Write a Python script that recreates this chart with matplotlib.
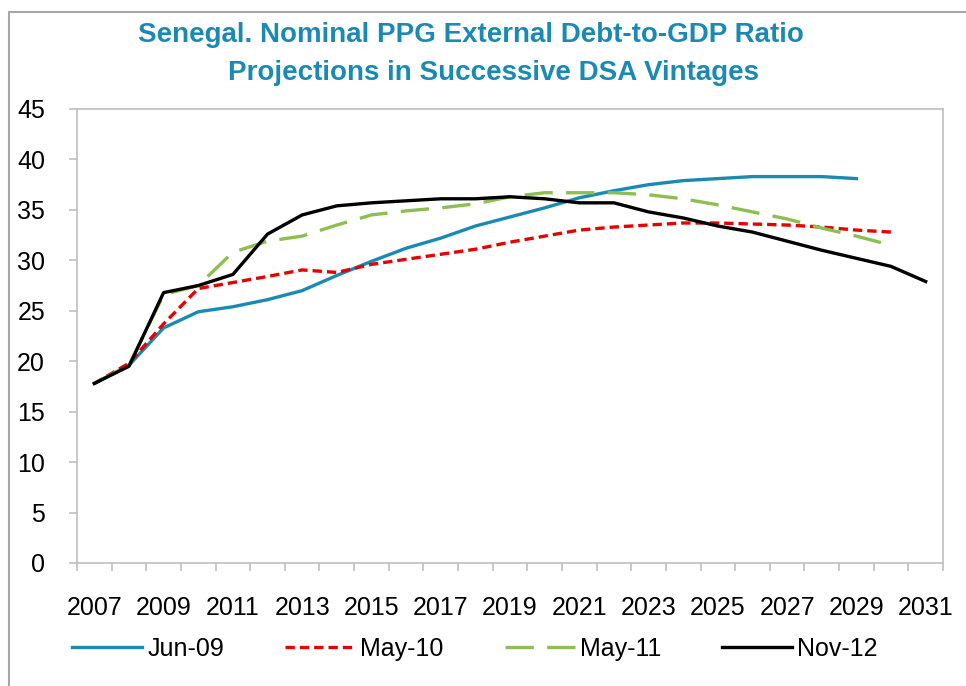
import matplotlib.pyplot as plt
from matplotlib.lines import Line2D
from matplotlib.ticker import FixedLocator

years = list(range(2007, 2032))
jun09 = [17.8, 19.6, 23.3, 24.9, 25.4, 26.1, 27.0, 28.5, 29.9, 31.2, 32.2, 33.4, 34.3,
         35.2, 36.2, 36.9, 37.5, 37.9, 38.1, 38.3, 38.3, 38.3, 38.1]
may10 = [17.8, 19.8, 23.7, 27.2, 27.8, 28.4, 29.05, 28.8, 29.6, 30.1, 30.6, 31.1, 31.8,
         32.4, 33.0, 33.3, 33.5, 33.7, 33.7, 33.6, 33.5, 33.3, 33.0, 32.8]
may11 = [17.8, 19.6, 26.6, 27.5, 30.8, 31.9, 32.4, 33.5, 34.5, 34.9, 35.2, 35.6, 36.3,
         36.7, 36.7, 36.7, 36.5, 36.1, 35.5, 34.8, 34.1, 33.2, 32.4, 31.5]
nov12 = [17.8, 19.5, 26.8, 27.5, 28.6, 32.6, 34.5, 35.4, 35.7, 35.9, 36.1, 36.1, 36.3,
         36.1, 35.7, 35.7, 34.8, 34.2, 33.4, 32.8, 31.9, 31.0, 30.2, 29.4, 27.9]
labels = ["Jun-09", "May-10", "May-11", "Nov-12"]
title1 = "Senegal. Nominal PPG External Debt-to-GDP Ratio"
title2 = "Projections in Successive DSA Vintages"

blue = "#1A8AB5"
red = "#E80000"
green = "#8DBE51"
grey = "#BFBFBF"
plt.rcParams["font.family"] = ["Liberation Sans", "DejaVu Sans"]

fig = plt.figure(figsize=(9.66, 6.86), dpi=100)
ax = fig.add_axes([77/966, 1-563/686, (943-77)/966, (563-109)/686])

idx = list(range(len(years)))
lw = 2.4
ax.plot(idx[:len(jun09)], jun09, color=blue, lw=lw, label=labels[0], solid_joinstyle="round")
ax.plot(idx[:len(may10)], may10, color=red, lw=lw, dashes=(2.8, 1.5), label=labels[1])
ax.plot(idx[:len(may11)], may11, color=green, lw=lw, dashes=(8.5, 4.0), label=labels[2])
ax.plot(idx[:len(nov12)], nov12, color="black", lw=lw, label=labels[3], solid_joinstyle="round")

ax.set_xlim(-0.5, len(years) - 0.5)
ax.set_ylim(0, 45)
ax.set_yticks(range(0, 46, 5))
ax.set_xticks(idx[::2])
ax.set_xticklabels([str(y) for y in years[::2]])
ax.xaxis.set_minor_locator(FixedLocator([i - 0.5 for i in range(len(years) + 1)]))
ax.tick_params(axis="x", which="major", length=0, pad=24, labelsize=18)
ax.tick_params(axis="x", which="minor", length=6, color=grey, width=1.2)
ax.tick_params(axis="y", length=6, color=grey, width=1.2, labelsize=18, pad=17)
for s in ax.spines.values():
    s.set_color(grey)
    s.set_linewidth(1.2)

fig.text(471/966, 1-35/686, title1, ha="center", va="center", color=blue, fontsize=20,
         fontweight="bold")
fig.text(493/966, 1-73/686, title2, ha="center", va="center", color=blue, fontsize=20,
         fontweight="bold")

ax.legend(loc="center", bbox_to_anchor=((475-77)/866, -0.189), ncol=4, frameon=False, fontsize=18,
          handlelength=2.8, handletextpad=0.2, columnspacing=2.45)

fig.add_artist(Line2D([9/966, 9/966, 1], [0, 1-12/686, 1-12/686], transform=fig.transFigure,
                      color="#A6A6A6", lw=1.5))

fig.savefig("out.png", dpi=100)
